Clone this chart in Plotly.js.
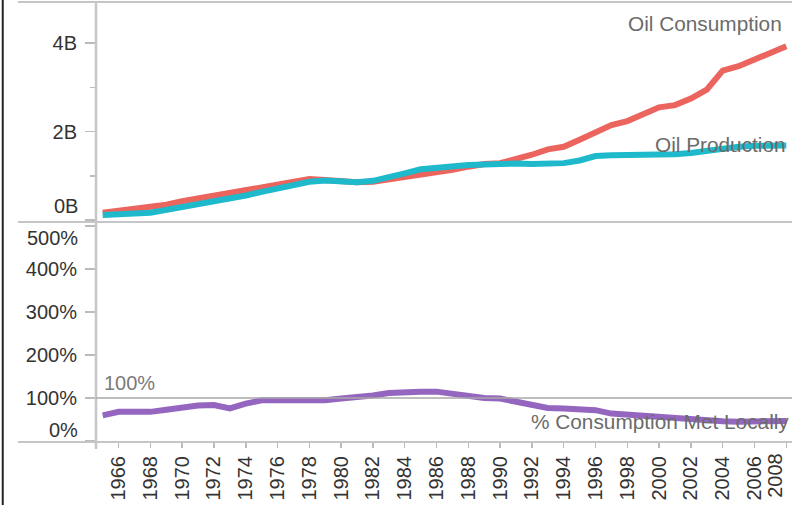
<!DOCTYPE html>
<html>
<head>
<meta charset="utf-8">
<script src="https://cdn.plot.ly/plotly-3.0.1.min.js"></script>
<style>
  html, body { margin: 0; padding: 0; background: #fff; }
  #chart { width: 792px; height: 505px; }
</style>
</head>
<body>
<div id="chart"></div>
<script>
// years 1965..2008
const years = [1965, 1966, 1967, 1968, 1969, 1970, 1971, 1972, 1973, 1974,
  1975, 1976, 1977, 1978, 1979, 1980, 1981, 1982, 1983, 1984,
  1985, 1986, 1987, 1988, 1989, 1990, 1991, 1992, 1993, 1994,
  1995, 1996, 1997, 1998, 1999, 2000, 2001, 2002, 2003, 2004,
  2005, 2006, 2007, 2008];

// billions
const consumption = [0.17, 0.22, 0.24, 0.29, 0.35, 0.43, 0.49, 0.55, 0.63, 0.68,
  0.74, 0.81, 0.87, 0.93, 0.91, 0.87, 0.86, 0.87, 0.92, 0.98,
  1.05, 1.09, 1.14, 1.21, 1.27, 1.29, 1.37, 1.48, 1.60, 1.66,
  1.82, 1.97, 2.15, 2.24, 2.40, 2.55, 2.60, 2.75, 2.95, 3.38,
  3.48, 3.62, 3.79, 3.93];

const production = [0.12, 0.15, 0.15, 0.17, 0.23, 0.30, 0.37, 0.43, 0.49, 0.56,
  0.64, 0.72, 0.80, 0.87, 0.90, 0.87, 0.86, 0.89, 0.96, 1.06,
  1.15, 1.19, 1.22, 1.25, 1.26, 1.28, 1.28, 1.27, 1.27, 1.29,
  1.35, 1.45, 1.47, 1.47, 1.47, 1.47, 1.49, 1.52, 1.57, 1.62,
  1.66, 1.68, 1.68, 1.69];

// percent
const metLocally = [60, 68, 68, 68, 73, 78, 83, 84, 76, 87,
  95, 95, 95, 94, 95, 99, 101, 106, 112, 115,
  115, 115, 110, 103, 100, 99, 91, 82, 77, 76,
  75, 72, 64, 61, 58, 55, 52, 50, 49, 46,
  45, 45, 45, 47];

const xTicks = [1966, 1968, 1970, 1972, 1974, 1976, 1978, 1980, 1982, 1984, 1986,
  1988, 1990, 1992, 1994, 1996, 1998, 2000, 2002, 2004, 2006, 2008];
const topTickVals = [0, 2, 4];
const topTickText = ["0B", "2B", "4B"];
const botTickVals = [0, 100, 200, 300, 400, 500];
const botTickText = ["0%", "100%", "200%", "300%", "400%", "500%"];

const tickFont = { family: "Liberation Sans, Arial, sans-serif", size: 20, color: "#333" };
const noteFont = { family: "Liberation Sans, Arial, sans-serif", size: 20.8, color: "#6b6b6b" };
const frame = "#c6c6c6";

// first/last y labels sit inside the pane, like the original
const blankEdges = (arr) => arr.map((t, i) => (i === 0 || i === arr.length - 1) ? "" : t);
const topText = topTickText.map((t, i) => i === 0 ? "" : t);
// last year label is pulled in from the right edge
const lastYear = xTicks[xTicks.length - 1];
const xText = xTicks.map((v, i) => i === xTicks.length - 1 ? "" : String(v));

const traces = [
  {
    x: years, y: consumption, xaxis: "x", yaxis: "y",
    type: "scatter", mode: "lines", name: "Oil Consumption",
    line: { color: "#EB645D", width: 6 },
  },
  {
    x: years, y: production, xaxis: "x", yaxis: "y",
    type: "scatter", mode: "lines", name: "Oil Production",
    line: { color: "#1EB9CB", width: 6 },
  },
  {
    x: years, y: metLocally, xaxis: "x", yaxis: "y2",
    type: "scatter", mode: "lines", name: "% Consumption Met Locally",
    line: { color: "#9466BF", width: 6 },
  },
];

const layout = {
  width: 792, height: 505,
  margin: { l: 96, r: 0, t: 2, b: 63 },
  paper_bgcolor: "#fff", plot_bgcolor: "#fff",
  showlegend: false,
  xaxis: {
    anchor: "y2",
    range: [1964.58, 2008.36],
    tickmode: "array", tickvals: xTicks, ticktext: xText,
    tickangle: -90, ticks: "outside", ticklen: 5, tickwidth: 1.5, tickcolor: "#bbb",
    tickfont: tickFont, showgrid: false, zeroline: false, showline: false,
  },
  yaxis: {
    domain: [0.5, 1], anchor: "x",
    range: [-0.04, 4.93],
    tickmode: "array", tickvals: topTickVals, ticktext: topText,
    ticks: "outside", ticklen: 10, tickwidth: 1.5, tickcolor: "#bbb",
    minor: { tickmode: "array", tickvals: [1, 3], ticks: "outside", ticklen: 5, tickwidth: 1.5, tickcolor: "#bbb" },
    ticklabelstandoff: 4,
    tickfont: tickFont, showgrid: false, zeroline: false, showline: false,
  },
  yaxis2: {
    domain: [0, 0.5], anchor: "x",
    range: [-2, 509],
    tickmode: "array", tickvals: botTickVals, ticktext: blankEdges(botTickText),
    ticks: "outside", ticklen: 10, tickwidth: 1.5, tickcolor: "#bbb",
    ticklabelstandoff: 4,
    tickfont: tickFont, showgrid: false, zeroline: false, showline: false,
  },
  shapes: [
    // pane borders
    { type: "line", xref: "paper", yref: "paper", x0: -0.112, x1: 1, y0: 1, y1: 1, line: { color: frame, width: 2 } },
    { type: "line", xref: "paper", yref: "paper", x0: -0.112, x1: 1, y0: 0.5, y1: 0.5, line: { color: frame, width: 2 } },
    { type: "line", xref: "paper", yref: "paper", x0: -0.112, x1: 1, y0: 0, y1: 0, line: { color: frame, width: 2 } },
    { type: "line", xref: "paper", yref: "paper", x0: 0, x1: 0, y0: -0.016, y1: 1, line: { color: frame, width: 2.5 } },
    // outer dark frame edge on the left
    { type: "line", xref: "paper", yref: "paper", x0: -0.134, x1: -0.134, y0: -0.15, y1: 1.01, line: { color: "#222", width: 2 } },
    // 100% reference line
    { type: "line", xref: "paper", yref: "y2", x0: 0, x1: 1, y0: 100, y1: 100, line: { color: "#a8a8a8", width: 1.5 } },
  ],
  annotations: [
    { text: "Oil Consumption", xref: "x", yref: "y", x: 2008, y: 4.45, xanchor: "right", yanchor: "middle",
      xshift: -2, showarrow: false, font: noteFont },
    { text: "Oil Production", xref: "x", yref: "y", x: 1999.6, y: 1.71, xanchor: "left", yanchor: "middle",
      showarrow: false, font: noteFont },
    { text: "100%", xref: "x", yref: "y2", x: 1964.96, y: 135, xanchor: "left", yanchor: "middle",
      showarrow: false, font: { ...noteFont, size: 20, color: "#7a7a7a" } },
    { text: "% Consumption Met Locally", xref: "x", yref: "y2", x: 2008.3, y: 45, xanchor: "right", yanchor: "middle",
      showarrow: false, font: noteFont },
    // edge tick labels nudged into their pane
    { text: topTickText[0], xref: "paper", yref: "y", x: 0, y: topTickVals[0], xanchor: "right", yanchor: "middle",
      xshift: -16, yshift: 14, showarrow: false, font: tickFont },
    { text: botTickText[botTickText.length - 1], xref: "paper", yref: "y2", x: 0, y: botTickVals[botTickVals.length - 1],
      xanchor: "right", yanchor: "middle", xshift: -16, yshift: -12, showarrow: false, font: tickFont },
    { text: botTickText[0], xref: "paper", yref: "y2", x: 0, y: botTickVals[0], xanchor: "right", yanchor: "middle",
      xshift: -16, yshift: 11, showarrow: false, font: tickFont },
    { text: String(lastYear), xref: "x", yref: "paper", x: lastYear, y: 0, xanchor: "center", yanchor: "top",
      xshift: -12, yshift: -9, textangle: -90, showarrow: false, font: tickFont },
  ],
};

Plotly.newPlot("chart", traces, layout, { staticPlot: true, displayModeBar: false });
</script>
</body>
</html>
